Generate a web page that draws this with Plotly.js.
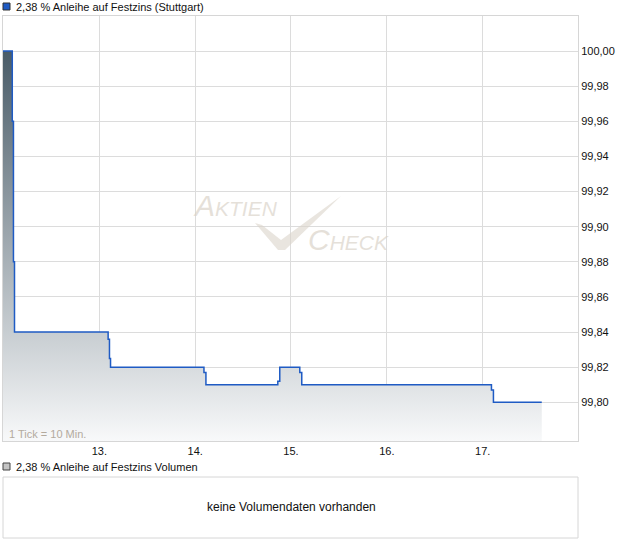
<!DOCTYPE html>
<html>
<head>
<meta charset="utf-8">
<script src="https://cdn.plot.ly/plotly-3.0.1.min.js"></script>
<style>
html,body{margin:0;padding:0;background:#fff;}
#chart{width:620px;height:546px;}
</style>
</head>
<body>
<div id="chart"></div>
<script>
// ---- data (x in trading-day units, step values) ----
const priceX = [11.995, 12.0917, 12.104, 12.115, 13.092, 13.106, 13.117, 14.092, 14.1125, 14.8625, 14.883, 15.092, 15.1125, 17.092, 17.1125, 17.617];
const priceY = [100.00, 99.96, 99.88, 99.84, 99.836, 99.825, 99.82, 99.817, 99.81, 99.812, 99.82, 99.817, 99.81, 99.807, 99.80, 99.80];
const dayTicks = [13, 14, 15, 16, 17];
const dayLabels = ['13.', '14.', '15.', '16.', '17.'];
const priceTicks = [99.80, 99.82, 99.84, 99.86, 99.88, 99.90, 99.92, 99.94, 99.96, 99.98, 100.00];
const seriesName = '2,38 % Anleihe auf Festzins (Stuttgart)';
const volumeName = '2,38 % Anleihe auf Festzins Volumen';
const noVolumeText = 'keine Volumendaten vorhanden';
const tickNote = '1 Tick = 10 Min.';

// ---- layout helpers ----
const W = 620, H = 546;
const M = {l: 3, r: 42, t: 16, b: 8};
const PW = W - M.l - M.r, PH = H - M.t - M.b;
const px = x => (x - M.l) / PW;
const py = y => 1 - (y - M.t) / PH;

const FONT = 'Liberation Sans, Arial, sans-serif';
const grid = '#dcdcdc';
const border = '#d6d6d6';
const wmColor = 'rgba(218,211,201,0.7)';

const fillTrace = {
  x: priceX, y: priceY, type: 'scatter', mode: 'lines',
  line: {shape: 'hv', width: 0, color: 'rgba(0,0,0,0)'},
  fill: 'tozeroy',
  fillgradient: {type: 'vertical', start: 99.778, stop: 100.0,
    colorscale: [[0, '#f8f9fa'], [1, '#4a5c68']]},
  hoverinfo: 'skip', showlegend: false
};
const lineTrace = {
  x: priceX, y: priceY, type: 'scatter', mode: 'lines',
  line: {shape: 'hv', width: 1.5, color: '#1f5bc4'},
  showlegend: false
};

const botMainPx = 441, topVolPx = 477, botVolPx = 538;

const layout = {
  width: W, height: H,
  margin: M,
  paper_bgcolor: '#ffffff', plot_bgcolor: 'rgba(0,0,0,0)',
  separators: ',.',
  font: {family: FONT, size: 11, color: '#111'},
  showlegend: false,
  xaxis: {
    domain: [0, 1], range: [11.995, 17.995],
    tickmode: 'array', tickvals: dayTicks, ticktext: dayLabels,
    showgrid: true, gridcolor: grid, gridwidth: 1,
    showline: true, mirror: true, linecolor: border, linewidth: 1,
    ticks: '', zeroline: false, tickfont: {size: 11, family: FONT, color: '#111'}
  },
  yaxis: {
    domain: [py(botMainPx), 1], range: [99.778, 100.02],
    side: 'right', tickmode: 'array', tickvals: priceTicks, tickformat: '.2f',
    showgrid: true, gridcolor: grid, gridwidth: 1,
    showline: true, mirror: true, linecolor: border, linewidth: 1,
    ticks: '', zeroline: false, tickfont: {size: 11, family: FONT, color: '#111'}
  },
  shapes: [
    {type: 'rect', xref: 'paper', yref: 'paper', x0: 0, x1: 1, y0: py(botVolPx), y1: py(topVolPx),
      fillcolor: 'rgba(0,0,0,0)', line: {color: border, width: 1}},
    {type: 'rect', xref: 'paper', yref: 'paper', x0: px(3), x1: px(10), y0: py(10), y1: py(3),
      fillcolor: '#1f5bc4', line: {color: '#333', width: 1}},
    {type: 'rect', xref: 'paper', yref: 'paper', x0: px(3), x1: px(10), y0: py(470), y1: py(463),
      fillcolor: '#c4c4c4', line: {color: '#444', width: 1}},
    {type: 'path', xref: 'paper', yref: 'paper', layer: 'above',
      path: 'M' + px(255) + ',' + py(223) + ' L' + px(262) + ',' + py(225) + ' L' + px(281) + ',' + py(240) +
            ' L' + px(341) + ',' + py(196) + ' L' + px(285) + ',' + py(250) + ' L' + px(278) + ',' + py(250) + ' Z',
      fillcolor: 'rgba(218,211,201,0.6)', line: {width: 0}}
  ],
  annotations: [
    {text: seriesName, xref: 'paper', yref: 'paper', x: px(14), y: py(7), xanchor: 'left', yanchor: 'middle',
      showarrow: false, font: {family: FONT, size: 11, color: '#111'}},
    {text: volumeName, xref: 'paper', yref: 'paper', x: px(14), y: py(467), xanchor: 'left', yanchor: 'middle',
      showarrow: false, font: {family: FONT, size: 11, color: '#111'}},
    {text: noVolumeText, xref: 'paper', yref: 'paper', x: px(291), y: py(507), xanchor: 'center', yanchor: 'middle',
      showarrow: false, font: {family: FONT, size: 12, color: '#111'}},
    {text: tickNote, xref: 'paper', yref: 'paper', x: px(7), y: py(434), xanchor: 'left', yanchor: 'middle',
      showarrow: false, font: {family: FONT, size: 11, color: '#b3aa9e'}},
    {text: 'Aktien', xref: 'paper', yref: 'paper', x: px(235), y: py(206), xanchor: 'center', yanchor: 'middle',
      showarrow: false, font: {family: FONT, size: 30, color: wmColor, style: 'italic', variant: 'small-caps'}},
    {text: 'Check', xref: 'paper', yref: 'paper', x: px(348), y: py(239), xanchor: 'center', yanchor: 'middle',
      showarrow: false, font: {family: FONT, size: 30, color: wmColor, style: 'italic', variant: 'small-caps'}}
  ]
};

Plotly.newPlot('chart', [fillTrace, lineTrace], layout, {displayModeBar: false, staticPlot: true});
</script>
</body>
</html>
